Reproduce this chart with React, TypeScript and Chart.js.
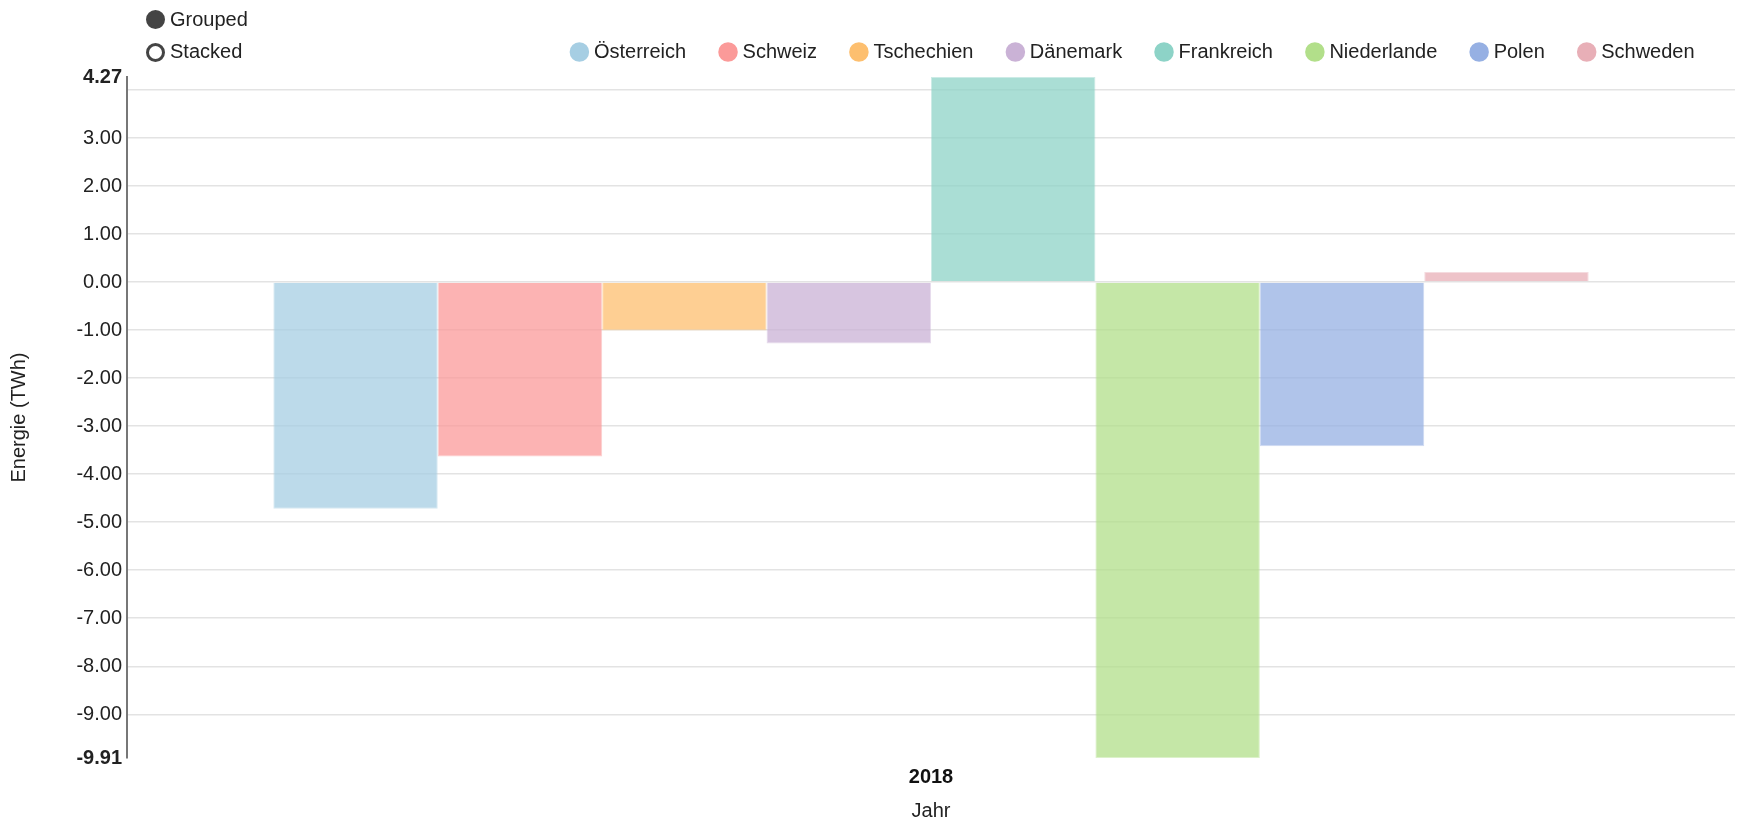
import React, { useEffect, useRef } from 'react';
import { Chart, registerables } from 'chart.js';

Chart.register(...registerables);

const categories = ['2018'];
const countries = ['Österreich', 'Schweiz', 'Tschechien', 'Dänemark', 'Frankreich', 'Niederlande', 'Polen', 'Schweden'];
const values2018 = [-4.72, -3.63, -1.01, -1.28, 4.27, -9.91, -3.42, 0.21];
const colors = ['#a6cee3', '#fb9a99', '#fdbf6f', '#cab2d6', '#8dd3c7', '#b2df8a', '#96b0e3', '#e8afb7'];
const yTickValues = [-9.91, -9, -8, -7, -6, -5, -4, -3, -2, -1, 0, 1, 2, 3, 4, 4.27];
const yTickLabels = ['-9.91', '-9.00', '-8.00', '-7.00', '-6.00', '-5.00', '-4.00', '-3.00', '-2.00', '-1.00', '0.00', '1.00', '2.00', '3.00', '', '4.27'];
const modeOptions = ['Grouped', 'Stacked'];

const FONT = "'Liberation Sans', Arial, Helvetica, sans-serif";

function rgba(hex: string, a: number) {
  const n = parseInt(hex.slice(1), 16);
  return `rgba(${(n >> 16) & 255},${(n >> 8) & 255},${n & 255},${a})`;
}

const legendShift = {
  id: 'legendShift',
  afterLayout(chart: any) {
    const l = chart.legend;
    if (!l) return;
    if (Array.isArray(l.lineWidths)) l.lineWidths = l.lineWidths.map((w: number) => w + 3);
    l.top -= 5;
    l.bottom -= 5;
  },
};

export default function App() {
  const ref = useRef<HTMLCanvasElement>(null);

  useEffect(() => {
    if (!ref.current) return;
    Chart.defaults.font.family = FONT;
    Chart.defaults.color = '#222';
    const last = yTickValues.length - 1;
    const chart = new Chart(ref.current, {
      type: 'bar',
      data: {
        labels: categories,
        datasets: countries.map((c, i) => ({
          label: c,
          data: [values2018[i]],
          backgroundColor: rgba(colors[i], 0.75),
          borderColor: rgba(colors[i], 0.45),
          borderWidth: 1,
          categoryPercentage: 0.818,
          barPercentage: 1,
        })),
      },
      options: {
        responsive: false,
        animation: false,
        layout: { padding: { top: 9.6, right: 2, left: 0, bottom: 0 } },
        plugins: {
          legend: {
            position: 'top',
            align: 'end',
            labels: {
              usePointStyle: true,
              pointStyle: 'circle',
              boxWidth: 9,
              boxHeight: 13.8,
              padding: 37.4,
              color: '#222',
              font: { size: 20 },
              generateLabels: (ch: any) =>
                (Chart.defaults.plugins.legend.labels as any).generateLabels(ch).map((l: any) => ({
                  ...l,
                  fillStyle: colors[l.datasetIndex],
                  strokeStyle: 'rgba(0,0,0,0)',
                  lineWidth: 0,
                })),
            },
          },
          tooltip: { enabled: false },
        },
        scales: {
          x: {
            grid: { display: false, drawTicks: false },
            border: { display: false },
            ticks: { font: { size: 20, weight: 'bold' }, padding: 7, color: '#111' },
            title: {
              display: true,
              text: 'Jahr',
              color: '#222',
              font: { size: 20, lineHeight: 1 },
              padding: { top: 5, bottom: 0 },
            },
          },
          y: {
            min: yTickValues[0],
            max: yTickValues[last],
            afterBuildTicks: (s: any) => {
              s.ticks = yTickValues.map((v) => ({ value: v }));
            },
            afterFit: (s: any) => {
              s.width = 127;
            },
            ticks: {
              autoSkip: false,
              padding: 5,
              color: '#222',
              callback: (_v: any, i: number) => yTickLabels[i],
              font: (ctx: any) => ({
                size: 20,
                weight: ctx.index === 0 || ctx.index === last ? 'bold' : 'normal',
              }),
            },
            grid: {
              drawTicks: false,
              lineWidth: 1.5,
              color: (ctx: any) => (ctx.index === 0 || ctx.index === last ? 'rgba(0,0,0,0)' : '#e3e3e3'),
            },
            border: { display: true, color: '#777', width: 2 },
            title: {
              display: true,
              text: 'Energie (TWh)',
              color: '#222',
              font: { size: 20 },
              padding: { top: 7, bottom: 0 },
            },
          },
        },
      } as any,
      plugins: [legendShift],
    });
    return () => chart.destroy();
  }, []);

  return (
    <div style={{ position: 'fixed', left: 0, top: 0, width: 1737, height: 821, background: '#fff', overflow: 'hidden' }}>
      <canvas ref={ref} width={1737} height={821} style={{ position: 'absolute', left: 0, top: 0, display: 'block' }} />
      {modeOptions.map((m, i) => (
        <div key={m} style={{ position: 'absolute', left: 146, top: i === 0 ? 8.5 : 41, height: 20, display: 'flex', alignItems: 'center', fontFamily: FONT, fontSize: 20, lineHeight: '20px', color: '#222' }}>
          <span
            style={{
              display: 'inline-block',
              boxSizing: 'border-box',
              width: 19,
              height: 19,
              borderRadius: '50%',
              border: '3px solid #444',
              background: i === 0 ? '#444' : '#fff',
              marginRight: 5,
              marginTop: i === 0 ? 1 : 3,
            }}
          />
          <span>{m}</span>
        </div>
      ))}
    </div>
  );
}
